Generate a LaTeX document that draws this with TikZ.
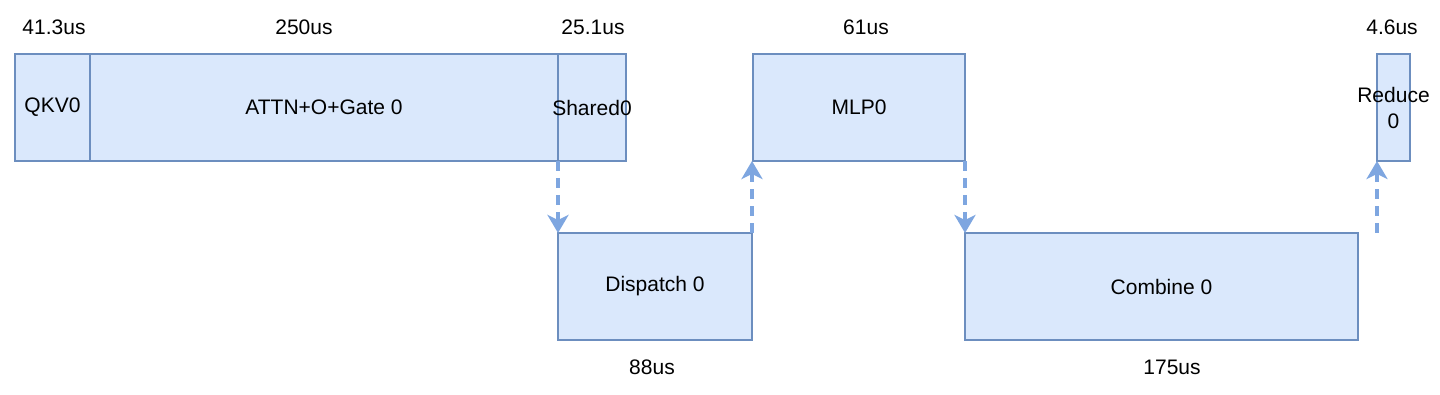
\documentclass[tikz,border=0pt]{standalone}
\usepackage{fontspec}
\setmainfont{Liberation Sans}
\usepackage{tikz}
\usetikzlibrary{arrows.meta, positioning, calc}

\definecolor{blkfill}{HTML}{DAE8FC}
\definecolor{blkdraw}{HTML}{6C8EBF}
\definecolor{flowcol}{HTML}{7EA6E0}

\begin{document}
\begin{tikzpicture}[
        x=1pt, y=-1pt,
        font=\fontsize{21}{26}\selectfont,
        blk/.style={rectangle, draw=blkdraw, fill=blkfill, line width=1.3pt, inner sep=0pt, outer sep=0pt, anchor=north west, minimum height=107pt, align=center},
        timelbl/.style={inner sep=0pt},
        flow/.style={-{Stealth[length=18pt, width=21pt, inset=5pt]}, flowcol, line width=3.2pt, dash pattern=on 10pt off 7pt}
    ]
        \useasboundingbox (0,0) rectangle (1440,395);

        % Blocks, upper row
        \node[blk, minimum width=75pt] (qkv) at (15,54) {QKV0};
        \node[blk, minimum width=468pt] (attn) at (90,54) {ATTN+O+Gate 0};
        \node[blk, minimum width=68pt, label={center:Shared0}] (shared) at (558,54) {};
        \node[blk, minimum width=212pt] (mlp) at (753,54) {MLP0};
        \node[blk, minimum width=33pt, label={[align=center]center:Reduce\\0}] (reduce) at (1377,54) {};

        % Blocks, lower row
        \node[blk, minimum width=194pt] (dispatch) at (558,233) {Dispatch 0};
        \node[blk, minimum width=393pt] (combine) at (965,233) {Combine 0};

        % Durations
        \node[timelbl] (tqkv) at (54,27) {41.3us};
        \node[timelbl] (tattn) at (304,27) {250us};
        \node[timelbl] (tshared) at (593,27) {25.1us};
        \node[timelbl] (tmlp) at (866,27) {61us};
        \node[timelbl] (treduce) at (1392,27) {4.6us};
        \node[timelbl] (tdispatch) at (652,367) {88us};
        \node[timelbl] (tcombine) at (1172,367) {175us};

        % Arrows
        \coordinate (rstart) at (combine.north east -| reduce.south west);
        \draw[flow] (shared.south west) -- (dispatch.north west);
        \draw[flow] (dispatch.north east) -- (dispatch.north east |- mlp.south);
        \draw[flow] (mlp.south east) -- (combine.north west);
        \draw[flow] (rstart) -- (reduce.south west);
    \end{tikzpicture}
\end{document}
